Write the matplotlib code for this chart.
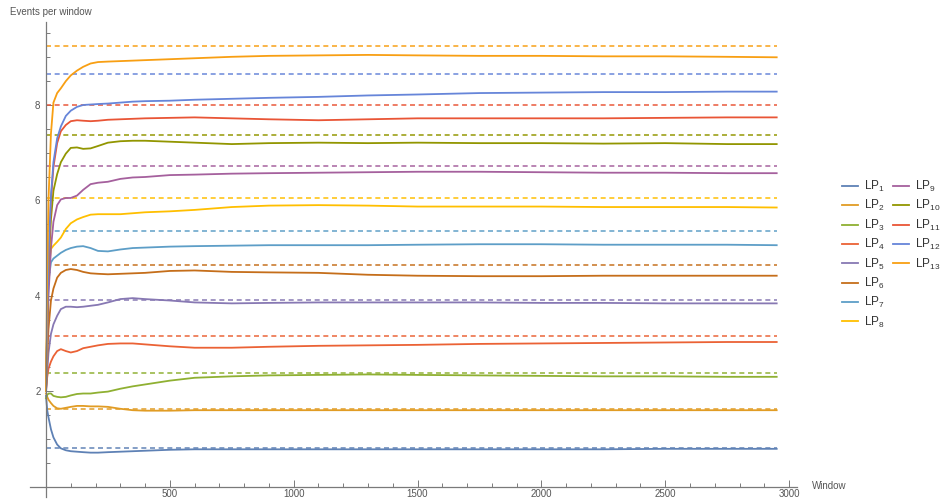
import matplotlib
matplotlib.use("Agg")
import matplotlib.pyplot as plt
from matplotlib.lines import Line2D
from matplotlib.ticker import MultipleLocator, FixedLocator

plt.rcParams['font.family'] = ['Liberation Sans', 'DejaVu Sans']
plt.rcParams['mathtext.fontset'] = 'custom'
plt.rcParams['mathtext.rm'] = 'Liberation Sans'

# window index shared by all running averages
window = [0, 5, 10, 20, 30, 45, 60, 80, 100, 125, 150, 180, 210, 250, 300,
          350, 400, 500, 600, 750, 900, 1100, 1300, 1500, 1750, 2000, 2250,
          2500, 2750, 2950]

lp1 = [1.9, 1.6, 1.45, 1.2, 1.03, 0.88, 0.8, 0.76, 0.74, 0.73, 0.72, 0.71, 0.71, 0.72, 0.73,
       0.74, 0.75, 0.77, 0.78, 0.78, 0.78, 0.78, 0.78, 0.78, 0.78, 0.78, 0.78, 0.79, 0.79, 0.79]
lp2 = [1.95, 1.88, 1.82, 1.75, 1.69, 1.64, 1.63, 1.65, 1.67, 1.69, 1.69, 1.68, 1.68, 1.67, 1.63,
       1.6, 1.59, 1.59, 1.6, 1.6, 1.6, 1.6, 1.6, 1.6, 1.6, 1.6, 1.6, 1.6, 1.6, 1.6]
lp3 = [1.85, 1.92, 1.95, 1.95, 1.9, 1.88, 1.87, 1.88, 1.91, 1.94, 1.95, 1.95, 1.97, 1.99, 2.05,
       2.1, 2.14, 2.22, 2.28, 2.31, 2.33, 2.34, 2.35, 2.34, 2.33, 2.32, 2.31, 2.31, 2.3, 2.3]
lp4 = [2.0, 2.3, 2.47, 2.62, 2.73, 2.84, 2.88, 2.84, 2.81, 2.84, 2.9, 2.93, 2.96, 2.99, 3.0,
       3.0, 2.98, 2.94, 2.91, 2.91, 2.93, 2.95, 2.96, 2.97, 2.99, 3.0, 3.01, 3.02, 3.03, 3.03]
lp5 = [2.0, 2.4, 2.8, 3.2, 3.4, 3.58, 3.72, 3.77, 3.77, 3.76, 3.77, 3.79, 3.81, 3.86, 3.93,
       3.95, 3.93, 3.9, 3.86, 3.84, 3.85, 3.86, 3.86, 3.86, 3.86, 3.85, 3.85, 3.84, 3.84, 3.84]
lp6 = [2.0, 2.7, 3.3, 3.9, 4.15, 4.38, 4.48, 4.54, 4.56, 4.54, 4.5, 4.47, 4.46, 4.45, 4.46,
       4.47, 4.48, 4.52, 4.53, 4.5, 4.49, 4.48, 4.44, 4.42, 4.41, 4.41, 4.42, 4.42, 4.42, 4.42]
lp7 = [2.0, 3.5, 4.3, 4.7, 4.78, 4.84, 4.9, 4.96, 5.0, 5.03, 5.04, 5.0, 4.94, 4.93, 4.97,
       5.0, 5.01, 5.03, 5.04, 5.05, 5.06, 5.06, 5.06, 5.07, 5.08, 5.08, 5.07, 5.07, 5.07, 5.06]
lp8 = [2.0, 3.6, 4.5, 4.98, 5.05, 5.13, 5.22, 5.4, 5.52, 5.6, 5.65, 5.7, 5.71, 5.71, 5.71,
       5.73, 5.75, 5.77, 5.8, 5.86, 5.89, 5.9, 5.89, 5.87, 5.87, 5.87, 5.86, 5.86, 5.86, 5.85]
lp9 = [2.0, 3.0, 4.0, 5.0, 5.55, 5.9, 6.02, 6.05, 6.05, 6.1, 6.22, 6.34, 6.37, 6.39, 6.45,
       6.48, 6.49, 6.53, 6.54, 6.56, 6.57, 6.58, 6.59, 6.6, 6.6, 6.59, 6.58, 6.58, 6.57, 6.57]
lp10 = [2.0, 3.3, 4.6, 5.6, 6.2, 6.55, 6.8, 6.98, 7.1, 7.11, 7.08, 7.09, 7.14, 7.21, 7.24,
        7.25, 7.25, 7.23, 7.21, 7.18, 7.2, 7.21, 7.2, 7.21, 7.2, 7.2, 7.19, 7.2, 7.18, 7.18]
lp11 = [2.0, 3.4, 4.6, 6.0, 6.7, 7.2, 7.45, 7.58, 7.66, 7.68, 7.67, 7.66, 7.67, 7.69, 7.7,
        7.71, 7.72, 7.73, 7.74, 7.72, 7.7, 7.68, 7.7, 7.72, 7.72, 7.72, 7.72, 7.73, 7.74, 7.74]
lp12 = [2.0, 3.5, 4.8, 6.1, 6.8, 7.3, 7.55, 7.77, 7.88, 7.96, 8.0, 8.01, 8.02, 8.03, 8.05,
        8.07, 8.08, 8.09, 8.11, 8.13, 8.15, 8.17, 8.2, 8.22, 8.25, 8.26, 8.27, 8.27, 8.28, 8.28]
lp13 = [2.0, 4.5, 6.0, 7.4, 8.05, 8.25, 8.35, 8.5, 8.62, 8.72, 8.8, 8.87, 8.9, 8.91, 8.92,
        8.93, 8.94, 8.96, 8.98, 9.01, 9.03, 9.04, 9.05, 9.04, 9.03, 9.03, 9.02, 9.02, 9.01, 9.0]

# expected rate for each process (dashed reference lines)
expected = [0.81, 1.62, 2.39, 3.16, 3.91, 4.64, 5.35, 6.04, 6.72, 7.37, 8.0, 8.64, 9.24]

series = [lp1, lp2, lp3, lp4, lp5, lp6, lp7, lp8, lp9, lp10, lp11, lp12, lp13]
names = ["LP$_{%d}$" % (i + 1) for i in range(13)]

colors = ["#5E81B5", "#E19C24", "#8FB032", "#EB6235", "#8778B3", "#C56E1A",
          "#5D9EC7", "#FFBF00", "#A5609D", "#929600", "#E95536", "#6685D9", "#F89F13"]

fig = plt.figure(figsize=(9.41, 5.0), dpi=100)
ax = fig.add_axes([30 / 941, 3 / 500, 767 / 941, 475 / 500])
ax.set_xlim(-64.6, 3032)
ax.set_ylim(-0.22, 9.74)

for ys, ev, c in zip(series, expected, colors):
    ax.plot([0, window[-1]], [ev, ev], color=c, lw=1.2, linestyle=(0, (3.0, 2.2)), alpha=0.9)
for ys, c in zip(series, colors):
    ax.plot(window, ys, color=c, lw=1.3)

axcol = "#7a7a7a"
for s in ["top", "right"]:
    ax.spines[s].set_visible(False)
ax.spines["left"].set_position(("data", 0))
ax.spines["bottom"].set_position(("data", 0))
for s in ["left", "bottom"]:
    ax.spines[s].set_color(axcol)
    ax.spines[s].set_linewidth(0.9)

ax.xaxis.set_major_locator(FixedLocator([500, 1000, 1500, 2000, 2500, 3000]))
ax.xaxis.set_minor_locator(MultipleLocator(100))
ax.yaxis.set_major_locator(FixedLocator([2, 4, 6, 8]))
ax.yaxis.set_minor_locator(MultipleLocator(0.5))
ax.tick_params(which="both", direction="in", color=axcol, labelcolor="#555555",
               labelsize=7, width=0.7)
ax.tick_params(which="major", length=5)
ax.tick_params(which="minor", length=3)
ax.tick_params(axis="x", pad=1.5)
ax.tick_params(axis="y", pad=4)

fig.text(10 / 941, 1 - 12 / 500, "Events per window", fontsize=7, color="#555555",
         ha="left", va="center")
fig.text(812 / 941, 1 - 486 / 500, "Window", fontsize=7, color="#555555",
         ha="left", va="center")

handles = [Line2D([], [], color=c, lw=1.3) for c in colors]
leg_kw = dict(frameon=False, fontsize=8.5, handlelength=1.35, handletextpad=0.5,
              labelspacing=0.36, borderpad=0, borderaxespad=0, labelcolor="#333333")
fig.legend(handles[:8], names[:8], loc="upper left",
           bbox_to_anchor=(842 / 941, 1 - 179 / 500), **leg_kw)
fig.legend(handles[8:], names[8:], loc="upper left",
           bbox_to_anchor=(893 / 941, 1 - 179 / 500), **leg_kw)

fig.savefig("out.png", dpi=100)
